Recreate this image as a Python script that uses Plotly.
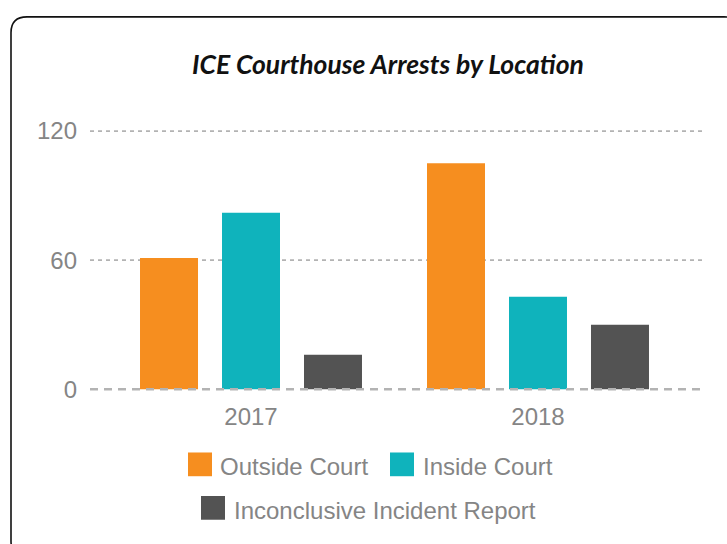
import plotly.graph_objects as go

# ---- data ----
years = ["2017", "2018"]
series_names = ["Outside Court", "Inside Court", "Inconclusive Incident Report"]
outside_court = [61, 105]
inside_court = [82, 43]
inconclusive = [16, 30]
series_colors = ["#F68E1F", "#0FB3BC", "#535353"]
y_ticks = [0, 60, 120]

W, H = 727, 544


def X(px):
    return px / W


def Y(py):
    return 1 - py / H


fig = go.Figure()
for name, vals, col in zip(series_names, [outside_court, inside_court, inconclusive], series_colors):
    fig.add_trace(go.Bar(x=years, y=vals, name=name, marker=dict(color=col, line=dict(width=0)),
                         showlegend=False))

TXT = "#858585"
FONT = "Arial, Liberation Sans, sans-serif"

# plot area in pixels
px_l, px_r = 90, 706
py_top, py_bot = 118.6, 401.5

fig.update_layout(
    width=W, height=H,
    margin=dict(l=0, r=0, t=0, b=0),
    paper_bgcolor="white", plot_bgcolor="white",
    barmode="group", bargap=0.1429, bargroupgap=0.2927,
    title=dict(text="ICE Courthouse Arrests by Location", x=X(388), y=Y(62),
               xanchor="center", yanchor="middle", xref="paper", yref="paper",
               font=dict(family="Lato, sans-serif", size=26.5, color="#111111",
                         weight="bold", style="italic")),
    xaxis=dict(domain=[X(px_l), X(px_r)], type="category", range=[-0.561, 1.5854],
               showgrid=False, zeroline=False, showline=False, ticks="",
               tickfont=dict(family=FONT, size=24, color=TXT)),
    yaxis=dict(domain=[Y(py_bot), Y(py_top)], range=[-5, 125], tickvals=y_ticks,
               showgrid=False, zeroline=False, showline=False, ticks="",
               ticklabelstandoff=12,
               tickfont=dict(family=FONT, size=24, color=TXT)),
    showlegend=False,
)

shapes = []
# gridlines
for v in y_ticks:
    if v == 0:
        continue
    shapes.append(dict(type="line", xref="paper", yref="y", x0=X(px_l), x1=X(px_r), y0=v, y1=v,
                       line=dict(color="#B3B3B3", width=1.8, dash="4px,4px"), layer="below"))
shapes.append(dict(type="line", xref="paper", yref="y", x0=X(px_l), x1=X(px_r), y0=0, y1=0,
                   line=dict(color="#B3B3B3", width=2.5, dash="8px,6px"), layer="above"))

# rounded border
x0, y0, x1, y1, r = 11, 14, 740, 560, 16
path = (f"M{X(x0 + r)},{Y(y0)} L{X(x1 - r)},{Y(y0)} Q{X(x1)},{Y(y0)} {X(x1)},{Y(y0 + r)} "
        f"L{X(x1)},{Y(y1 - r)} Q{X(x1)},{Y(y1)} {X(x1 - r)},{Y(y1)} "
        f"L{X(x0 + r)},{Y(y1)} Q{X(x0)},{Y(y1)} {X(x0)},{Y(y1 - r)} "
        f"L{X(x0)},{Y(y0 + r)} Q{X(x0)},{Y(y0)} {X(x0 + r)},{Y(y0)} Z")
shapes.append(dict(type="path", xref="paper", yref="paper", path=path,
                   line=dict(color="#111111", width=1.6), layer="above"))

# custom legend
legend_items = [
    (series_names[0], series_colors[0], 188, 466.5, 220),
    (series_names[1], series_colors[1], 390, 466.5, 423),
    (series_names[2], series_colors[2], 201, 510.5, 234),
]
annotations = []
for name, col, sx, cy, tx in legend_items:
    shapes.append(dict(type="rect", xref="paper", yref="paper",
                       x0=X(sx), x1=X(sx + 24), y0=Y(cy - 12), y1=Y(cy + 12),
                       fillcolor=col, line=dict(width=0)))
    annotations.append(dict(text=name, xref="paper", yref="paper", x=X(tx - 2), y=Y(cy + 2.5),
                            xanchor="left", yanchor="middle", showarrow=False,
                            font=dict(family=FONT, size=24, color=TXT)))

fig.update_layout(shapes=shapes, annotations=annotations)

fig.write_html("out.html", config={"displayModeBar": False},
               post_script="document.body.style.margin='0';")
